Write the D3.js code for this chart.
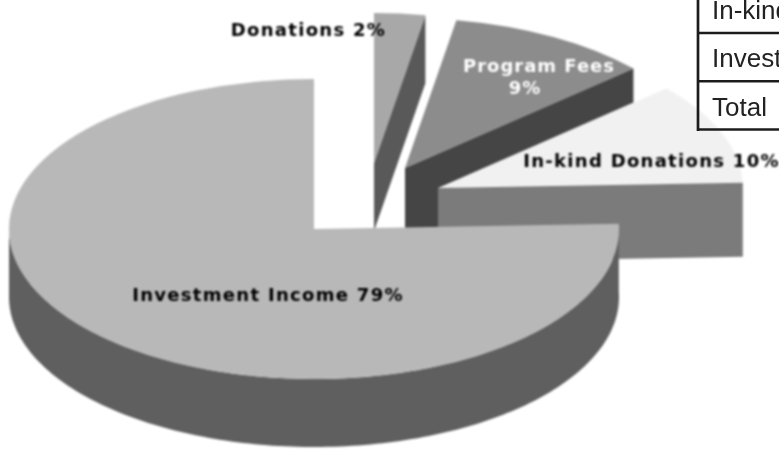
<!DOCTYPE html>
<html>
<head>
<meta charset="utf-8">
<script src="https://cdn.jsdelivr.net/npm/d3@7"></script>
<style>
  html, body { margin: 0; padding: 0; background: #fff; overflow: hidden; }
  svg { display: block; }
  .label { font-family: "DejaVu Sans", sans-serif; font-weight: bold; font-size: 18px; letter-spacing: 1.3px; }
  .cell { font-family: "Liberation Sans", sans-serif; font-size: 26px; fill: #222; }
</style>
</head>
<body>
<svg></svg>
<script>
const width = 779
const height = 453

const categories = ['Donations', 'Program Fees', 'In-kind Donations', 'Investment Income']
const shares = [2, 9, 10, 79]
// the printed pie does not draw its wedges in proportion to the shares, these are read off it
const drawnDegrees = [9.7, 38.8, 39.5, 272]
// the table is cut by the picture's edge, only this much of it shows
const tableRows = ['In-kind', 'Invest', 'Total']

const rx = 305
const ry = 150
const center = [314, 229]

// how each wedge is pulled out, and how thick it is
const layout = [
  { dx: 60, dy: -66, depth: 68, top: '#a8a8a8', side: '#595959' },
  { dx: 91, dy: -61, depth: 34, top: '#8c8c8c', side: '#454545' },
  { dx: 124, dy: -41, depth: 74, top: '#f1f1f1', side: '#7b7b7b' },
  { dx: 0, dy: 0, depth: 68, top: '#b8b8b8', side: '#5f5f5f' }
]

const svg = d3.select('svg').attr('width', width).attr('height', height)
const chart = svg.append('g').style('filter', 'blur(0.8px)')

const slices = d3.pie().sort(null).value(d => d)(drawnDegrees)
const arc = d3.arc().innerRadius(0).outerRadius(rx)
const line = d3.line()

function rimPoint(angle, i) {
  return [
    center[0] + layout[i].dx + rx * Math.sin(angle),
    center[1] + layout[i].dy - ry * Math.cos(angle)
  ]
}

function apex(i) {
  return [center[0] + layout[i].dx, center[1] + layout[i].dy]
}

function down(p, depth) {
  return [p[0], p[1] + depth]
}

function drawTop(i) {
  chart.append('path')
    .attr('d', arc(slices[i]))
    .attr('fill', layout[i].top)
    .attr('transform', `translate(${apex(i)}) scale(1, ${ry / rx})`)
}

function drawSide(points, i) {
  chart.append('path')
    .attr('d', line(points) + 'Z')
    .attr('fill', layout[i].side)
}

// in-kind sits at the back
drawTop(2)
const kindRim = rimPoint(slices[2].endAngle, 2)
drawSide([apex(2), kindRim, down(kindRim, layout[2].depth), down(apex(2), layout[2].depth)], 2)

// program fees, its side runs round the in-kind corner
const feesRim = rimPoint(slices[1].endAngle, 1)
drawSide([
  apex(1),
  feesRim,
  down(feesRim, layout[1].depth),
  apex(2),
  [apex(2)[0], center[1] + 1],
  [apex(1)[0], center[1] + 1]
], 1)
drawTop(1)

// donations
const donationRim = rimPoint(slices[0].endAngle, 0)
drawSide([apex(0), donationRim, down(donationRim, layout[0].depth), down(apex(0), layout[0].depth)], 0)
drawTop(0)

// investment income, front wall then the top
const frontAngles = d3.range(slices[3].startAngle, Math.PI * 1.5, 0.02).concat(Math.PI * 1.5)
const frontRim = frontAngles.map(a => rimPoint(a, 3))
drawSide(frontRim.concat(frontRim.map(p => down(p, layout[3].depth)).reverse()), 3)
drawTop(3)

// labels
const labels = chart.append('g').attr('class', 'labels')
const labelSpots = [
  { x: 308.5, y: 36, fill: '#000' },
  { x: 539, y: 72, fill: '#fff' },
  { x: 651.5, y: 167, fill: '#000' },
  { x: 268, y: 301, fill: '#000' }
]

categories.forEach((name, i) => {
  const spot = labelSpots[i]
  const text = labels.append('text')
    .attr('class', 'label')
    .attr('x', spot.x)
    .attr('y', spot.y)
    .attr('text-anchor', 'middle')
    .attr('fill', spot.fill)
  if (name === 'Program Fees') {
    // the percent sits left of the name's middle in the print
    text.style('letter-spacing', '1px')
    text.append('tspan').text(name)
    text.append('tspan').attr('x', spot.x - 14).attr('dy', 21.5).text(`${shares[i]}%`)
  } else {
    text.text(`${name} ${shares[i]}%`)
  }
})

// table, runs off the right edge of the page
const table = svg.append('g')
const rowY = d3.scalePoint().domain(tableRows).range([33, 129.5])
const tableLeft = 698

table.append('line')
  .attr('x1', tableLeft).attr('x2', tableLeft)
  .attr('y1', 0).attr('y2', 131)
  .attr('stroke', '#1c1c1c').attr('stroke-width', 2.7)

table.selectAll('line.row')
  .data(tableRows)
  .enter().append('line')
  .attr('class', 'row')
  .attr('x1', tableLeft).attr('x2', width)
  .attr('y1', d => rowY(d)).attr('y2', d => rowY(d))
  .attr('stroke', '#1c1c1c').attr('stroke-width', 2.7)

table.selectAll('text')
  .data(tableRows)
  .enter().append('text')
  .attr('class', 'cell')
  .attr('x', tableLeft + 14)
  .attr('y', d => rowY(d) - 13.8)
  .text(d => d)
</script>
</body>
</html>
